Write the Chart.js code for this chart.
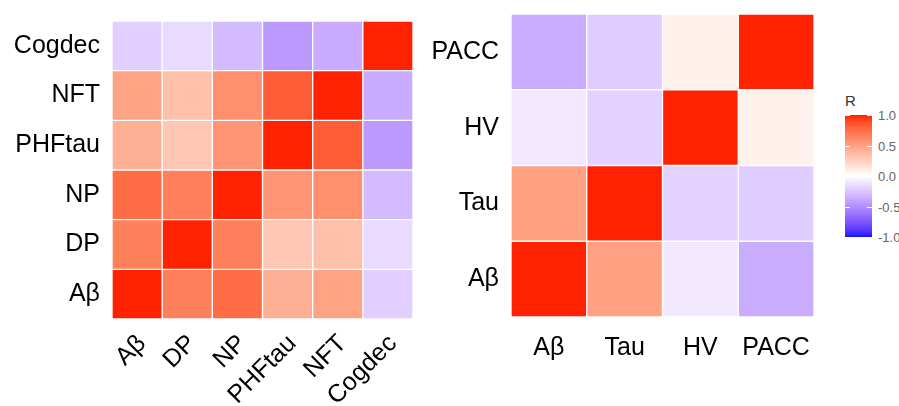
<!DOCTYPE html>
<html>
<head>
<meta charset="utf-8">
<script src="https://cdn.jsdelivr.net/npm/chart.js@4"></script>
<style>
  body { margin: 0; background: #fff; width: 899px; height: 406px; overflow: hidden; position: relative; font-family: "Liberation Sans", Arial, sans-serif; }
  canvas { position: absolute; top: 0; }
  #left { left: 0; }
  #right { left: 420px; }
  #legend { position: absolute; left: 845px; top: 92px; }
  #legend .title { font-size: 15px; color: #333; margin-bottom: 5px; }
  #bar { position: absolute; left: 0; top: 23px; width: 27px; height: 122px; }
  #legend .lab { position: absolute; left: 33px; font-size: 13px; color: #666; white-space: nowrap; transform: translateY(-50%); }
  #legend .tk { position: absolute; height: 1px; width: 5px; background: rgba(255,255,255,0.9); }
</style>
</head>
<body>
<canvas id="left" width="420" height="406"></canvas>
<canvas id="right" width="410" height="406"></canvas>
<div id="legend">
  <div class="title">R</div>
  <div id="bar"></div>
</div>
<script>
// left matrix: variables bottom-to-top on y, left-to-right on x
const leftLabels = ['Aβ', 'DP', 'NP', 'PHFtau', 'NFT', 'Cogdec'];
const leftAbeta  = [1.00, 0.66, 0.75, 0.43, 0.49, -0.21];
const leftDP     = [0.66, 1.00, 0.67, 0.30, 0.34, -0.16];
const leftNP     = [0.75, 0.67, 1.00, 0.56, 0.59, -0.30];
const leftPHFtau = [0.43, 0.30, 0.56, 1.00, 0.82, -0.45];
const leftNFT    = [0.49, 0.34, 0.59, 0.82, 1.00, -0.37];
const leftCogdec = [-0.21, -0.16, -0.30, -0.45, -0.37, 1.00];

// right matrix
const rightLabels = ['Aβ', 'Tau', 'HV', 'PACC'];
const rightAbeta = [1.00, 0.50, -0.10, -0.36];
const rightTau   = [0.50, 1.00, -0.20, -0.22];
const rightHV    = [-0.10, -0.20, 1.00, 0.07];
const rightPACC  = [-0.36, -0.22, 0.07, 1.00];

const legendTicks = [1.0, 0.5, 0.0, -0.5, -1.0];

// colour scale: white in the middle, interpolated in Lab like ggplot's gradient2
function toLin(c) { c /= 255; return c <= 0.04045 ? c / 12.92 : Math.pow((c + 0.055) / 1.055, 2.4); }
function fromLin(c) { c = c <= 0.0031308 ? 12.92 * c : 1.055 * Math.pow(c, 1 / 2.4) - 0.055; return Math.round(Math.max(0, Math.min(1, c)) * 255); }
function rgb2lab(r, g, b) {
  r = toLin(r); g = toLin(g); b = toLin(b);
  let x = (0.4124 * r + 0.3576 * g + 0.1805 * b) / 0.95047;
  let y = (0.2126 * r + 0.7152 * g + 0.0722 * b);
  let z = (0.0193 * r + 0.1192 * g + 0.9505 * b) / 1.08883;
  const f = t => t > 0.008856 ? Math.cbrt(t) : 7.787 * t + 16 / 116;
  x = f(x); y = f(y); z = f(z);
  return [116 * y - 16, 500 * (x - y), 200 * (y - z)];
}
function lab2rgb(L, a, b) {
  const fy = (L + 16) / 116, fx = fy + a / 500, fz = fy - b / 200;
  const g = t => t > 0.206893 ? t * t * t : (t - 16 / 116) / 7.787;
  const x = g(fx) * 0.95047, y = g(fy), z = g(fz) * 1.08883;
  const r = 3.2406 * x - 1.5372 * y - 0.4986 * z;
  const gg = -0.9689 * x + 1.8758 * y + 0.0415 * z;
  const bb = 0.0557 * x - 0.2040 * y + 1.0570 * z;
  return 'rgb(' + fromLin(r) + ',' + fromLin(gg) + ',' + fromLin(bb) + ')';
}
const labHigh = rgb2lab(255, 34, 0);
const labMid = rgb2lab(255, 255, 255);
const labLow = rgb2lab(20, 20, 255);
function corColor(v) {
  const end = v >= 0 ? labHigh : labLow;
  const t = Math.min(1, Math.abs(v));
  return lab2rgb(labMid[0] + (end[0] - labMid[0]) * t, labMid[1] + (end[1] - labMid[1]) * t, labMid[2] + (end[2] - labMid[2]) * t);
}

const font = { family: '"Liberation Sans", Arial, sans-serif', size: 25 };

function heatmap(id, labels, rows, box, rotate) {
  const datasets = rows.map((row, r) => ({
    data: row.map((v, c) => ({ x: labels[c], y: [r, r + 1] })),
    backgroundColor: row.map(v => corColor(v)),
    borderColor: 'rgba(255,255,255,0.16)',
    borderWidth: 1,
    borderSkipped: false,
    grouped: false,
    barPercentage: 1,
    categoryPercentage: 1
  }));
  return new Chart(document.getElementById(id), {
    type: 'bar',
    data: { labels: labels, datasets: datasets },
    options: {
      responsive: false,
      animation: false,
      layout: { padding: { top: box.top, right: box.right, bottom: 0, left: 0 } },
      plugins: { legend: { display: false }, tooltip: { enabled: false } },
      scales: {
        x: {
          type: 'category',
          grid: { display: false, drawTicks: false },
          border: { display: false },
          ticks: {
            color: '#000', font: font, padding: box.xPad,
            minRotation: rotate ? 45 : 0, maxRotation: rotate ? 45 : 0,
            labelOffset: rotate ? 5 : 0, autoSkip: false
          },
          afterFit: s => { s.height = box.xHeight; s.paddingLeft = 0; s.paddingRight = 0; }
        },
        y: {
          type: 'linear', min: 0, max: labels.length,
          grid: { display: false, drawTicks: false },
          border: { display: false },
          ticks: { color: '#000', font: font, padding: 12, callback: v => labels[v - 0.5] },
          afterBuildTicks: s => { s.ticks = labels.map((_, i) => ({ value: i + 0.5 })); },
          afterFit: s => { s.width = box.yWidth; s.paddingTop = 0; s.paddingBottom = 0; }
        }
      }
    }
  });
}

heatmap('left', leftLabels, [leftAbeta, leftDP, leftNP, leftPHFtau, leftNFT, leftCogdec],
  { top: 21, right: 7, yWidth: 112, xHeight: 87, xPad: 10 }, true);
heatmap('right', rightLabels, [rightAbeta, rightTau, rightHV, rightPACC],
  { top: 14, right: 16, yWidth: 91, xHeight: 89, xPad: 16 }, false);

// colour bar legend
const bar = document.getElementById('bar');
const stops = [];
for (let i = 0; i <= 20; i++) {
  const v = 1 - i / 10;
  stops.push(corColor(v) + ' ' + (i * 5) + '%');
}
bar.style.background = 'linear-gradient(to bottom, ' + stops.join(', ') + ')';
const legend = document.getElementById('legend');
legendTicks.forEach(v => {
  const y = 23 + (1 - v) / 2 * 122;
  const lab = document.createElement('div');
  lab.className = 'lab';
  lab.style.top = y + 'px';
  lab.textContent = v.toFixed(1);
  legend.appendChild(lab);
  [0, 22].forEach(x => {
    const tk = document.createElement('div');
    tk.className = 'tk';
    tk.style.left = x + 'px';
    tk.style.top = Math.round(y) + 'px';
    legend.appendChild(tk);
  });
});
</script>
</body>
</html>
